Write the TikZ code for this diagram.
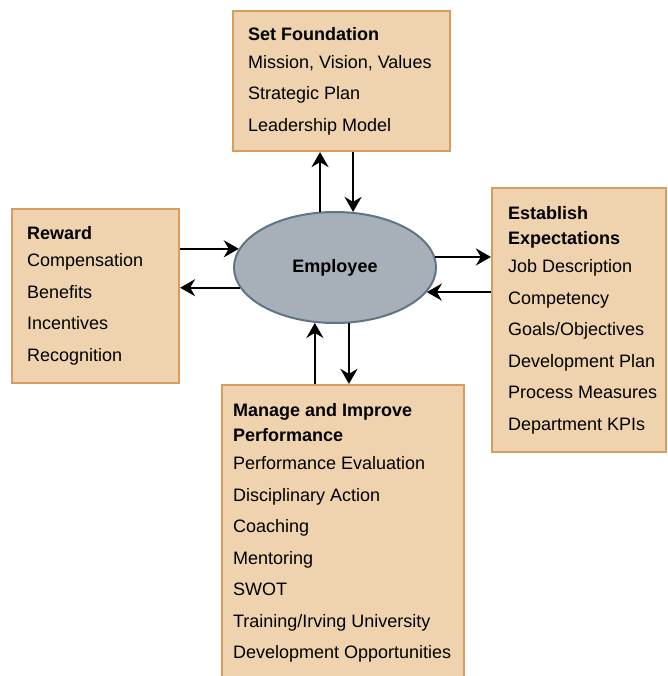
\documentclass[tikz,border=0pt]{standalone}
\usepackage{fontspec}
\setmainfont{Liberation Sans}
\usetikzlibrary{shapes,arrows.meta}
\tikzset{>={Stealth[length=15pt,width=17pt,inset=5pt]}}

\definecolor{boxfill}{HTML}{EFD3AE}
\definecolor{boxline}{HTML}{D69D5E}
\definecolor{empfill}{HTML}{A7AFB9}
\definecolor{empline}{HTML}{5F7484}

\begin{document}
\begin{tikzpicture}[x=1pt, y=-1pt]

%% styles
\tikzstyle{tanbox}=[draw=boxline, fill=boxfill, line width=2.2pt, rectangle, inner sep=0pt]

\tikzstyle{boxtext}=[anchor=west, align=left, inner sep=0pt,
  font=\fontsize{18}{31.5}\selectfont]

\tikzstyle{hub}=[draw=empline, fill=empfill, line width=2pt, ellipse, inner sep=0pt,
  minimum width=202pt, minimum height=111pt, font=\fontsize{18}{22}\selectfont\bfseries]

\tikzstyle{link}=[->, line width=2.4pt]

\useasboundingbox (0, 0) rectangle (667, 676);

%% center
\node(emp)[style = hub] at (335, 267.5) {Employee};

%% boxes
\node(found)[style = tanbox, minimum width=217pt, minimum height=140pt] at (341.5, 81) {};
\node(reward)[style = tanbox, minimum width=167pt, minimum height=174pt] at (95.5, 296) {};
\node(expect)[style = tanbox, minimum width=174pt, minimum height=264pt] at (579, 320) {};
\node(manage)[style = tanbox, minimum width=242pt, minimum height=296pt] at (343, 533) {};

%% texts
\node(foundtext)[style = boxtext] at ([xshift=16pt]found.west)
{
\textbf{Set Foundation}\\[-3.5pt]
Mission, Vision, Values\\
Strategic Plan\\
Leadership Model
};

\node(rewardtext)[style = boxtext] at ([xshift=16pt]reward.west)
{
\textbf{Reward}\\[-4.5pt]
Compensation\\
Benefits\\
Incentives\\
Recognition
};

\node(expecttext)[style = boxtext] at ([xshift=17pt]expect.west)
{
\textbf{Establish}\\[-6pt]
\textbf{Expectations}\\[-3.5pt]
Job Description\\
Competency\\
Goals/Objectives\\
Development Plan\\
Process Measures\\
Department KPIs
};

\node(managetext)[style = boxtext] at ([xshift=12pt]manage.west)
{
\textbf{Manage and Improve}\\[-6pt]
\textbf{Performance}\\[-3.5pt]
Performance Evaluation\\
Disciplinary Action\\
Coaching\\
Mentoring\\
SWOT\\
Training/Irving University\\
Development Opportunities
};

%% arrows
\draw [link] (emp.105) -- (emp.105 |- found.south);
\draw [link] (emp.72 |- found.south) -- (emp.72);

\draw [link] (emp.169 -| reward.east) -- (emp.169);
\draw [link] (emp.192) -- (emp.192 -| reward.east);

\draw [link] (emp.6) -- (emp.6 -| expect.west);
\draw [link] (emp.345 -| expect.west) -- (emp.345);

\draw [link] (emp.250 |- manage.north) -- (emp.250);
\draw [link] (emp.284) -- (emp.284 |- manage.north);

\end{tikzpicture}
\end{document}
